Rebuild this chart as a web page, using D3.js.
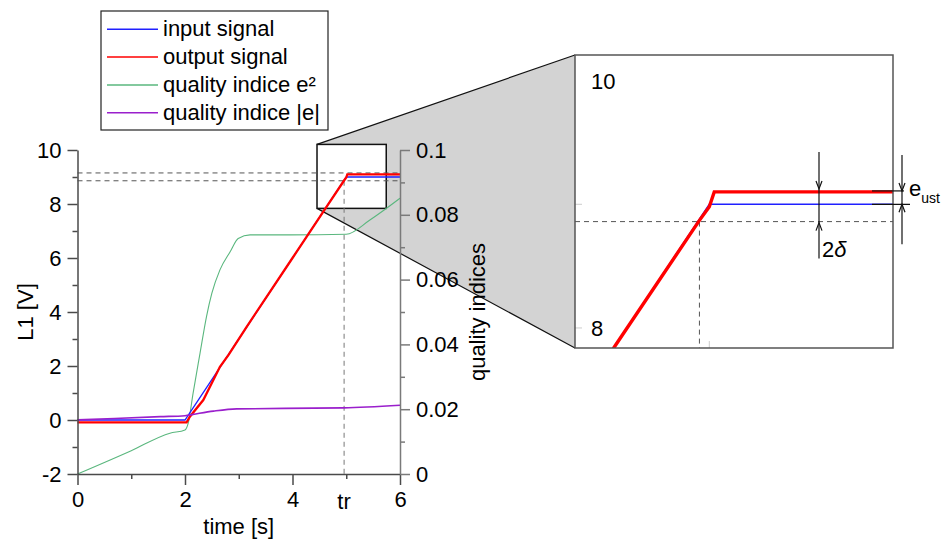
<!DOCTYPE html>
<html><head><meta charset="utf-8">
<script src="https://cdn.jsdelivr.net/npm/d3@7"></script>
<style>
body{margin:0;background:#fff;}
svg{display:block;font-family:"Liberation Sans",Arial,Helvetica,sans-serif;}
</style></head>
<body><svg id="c" width="947" height="540"></svg>
<script>
// ---------------- data ----------------
const inputT  = [0, 2, 5, 6];
const inputV  = [0, 0, 9, 9];
const outputT = [0, 2.03, 2.09, 2.34, 2.65, 2.81, 3.15, 4.0, 4.62, 4.96, 5.0, 5.02, 6];
const outputV = [-0.09, -0.09, 0.12, 0.74, 1.97, 2.41, 3.46, 6.0, 7.86, 8.87, 8.98, 9.1, 9.1];
const e2T = [0, 1, 1.72, 2.0, 2.06, 2.15, 2.28, 2.40, 2.50, 2.65, 2.84, 2.99, 3.21, 3.95, 5.0, 5.44, 6];
const e2V = [0, 0.0072, 0.0126, 0.0136, 0.0157, 0.0249, 0.0373, 0.0486, 0.0558, 0.063, 0.0686, 0.0727, 0.0738, 0.0738, 0.0740, 0.0784, 0.0851];
const absT = [0, 1.54, 2.0, 2.15, 2.53, 2.96, 4.95, 6];
const absV = [0.0167, 0.0177, 0.0180, 0.0184, 0.0194, 0.0201, 0.0204, 0.0212];
const xTicks = [0, 2, 4, 6];
const xMinor = [1, 3, 5];
const yLTicks = [-2, 0, 2, 4, 6, 8, 10];
const yLMinor = [-1, 1, 3, 5, 7, 9];
const yRTicks = [0, 0.02, 0.04, 0.06, 0.08, 0.1];
const yRMinor = [0.01, 0.03, 0.05, 0.07, 0.09];
const tr = 4.96;
const bandHi = 9.15, bandLo = 8.86;
const redLevel = 9.1, blueLevel = 9;
const insetXDomain = [4.456, 5.744];
const insetYDomain = [7.838, 10.207];
const insetYTicks = [8, 9];
const insetYLabels = [8, 10];
const insetXTicks = [5];
const legendItems = [
  {name: "input signal", color: "#2020ff"},
  {name: "output signal", color: "#ff0000"},
  {name: "quality indice e\u00B2", color: "#5ab77e"},
  {name: "quality indice |e|", color: "#9a1fcc"}
];

// ---------------- scales ----------------
const svg = d3.select("#c");
const x = d3.scaleLinear([0, 6], [77.5, 400]);
const yL = d3.scaleLinear([-2, 10], [474, 150]);
const yR = d3.scaleLinear([0, 0.1], [474, 150]);
const IL = 575, IR = 893, IT = 55, IB = 348;
const xi = d3.scaleLinear(insetXDomain, [IL, IR]);
const yi = d3.scaleLinear(insetYDomain, [IB, IT]);

const zip = (t, v) => t.map((d, i) => [d, v[i]]);
const lineL = d3.line().x(d => x(d[0])).y(d => yL(d[1]));
const lineR = d3.line().x(d => x(d[0])).y(d => yR(d[1])).curve(d3.curveMonotoneX);
const lineI = d3.line().x(d => xi(d[0])).y(d => yi(d[1]));
const numFmt = d => String(d);

// ---------------- zoom connector ----------------
const rx0 = x(insetXDomain[0]), rx1 = x(insetXDomain[1]);
const ry0 = yL(insetYDomain[1]), ry1 = yL(insetYDomain[0]);
svg.append("path")
  .attr("d", `M${rx0},${ry0}L${IL},${IT}L${IL},${IB}L${rx0},${ry1}Z`)
  .attr("fill", "#d3d3d3").attr("stroke", "none");
svg.append("path").attr("d", `M${rx0},${ry0}L${IL},${IT}M${rx0},${ry1}L${IL},${IB}`)
  .attr("stroke", "#111").attr("stroke-width", 1.2).attr("fill", "none");
svg.append("rect").attr("x", rx0).attr("y", ry0).attr("width", rx1 - rx0).attr("height", ry1 - ry0)
  .attr("fill", "#fff").attr("stroke", "#111").attr("stroke-width", 1.5);

// ---------------- main dashed guides ----------------
const dash = "5,4";
[bandHi, bandLo].forEach(v => {
  svg.append("line").attr("x1", x(0)).attr("x2", x(6)).attr("y1", yL(v)).attr("y2", yL(v))
    .attr("stroke", "#555").attr("stroke-width", 1).attr("stroke-dasharray", dash);
});
svg.append("line").attr("x1", x(tr)).attr("x2", x(tr)).attr("y1", yL(bandLo)).attr("y2", yL(-2))
  .attr("stroke", "#777").attr("stroke-width", 1).attr("stroke-dasharray", dash);

// ---------------- main series ----------------
svg.append("path").attr("d", lineR(zip(e2T, e2V))).attr("fill", "none").attr("stroke", legendItems[2].color).attr("stroke-width", 1.1);
svg.append("path").attr("d", lineL(zip(inputT, inputV))).attr("fill", "none").attr("stroke", legendItems[0].color).attr("stroke-width", 1.3);
svg.append("path").attr("d", lineL(zip(outputT, outputV))).attr("fill", "none").attr("stroke", legendItems[1].color).attr("stroke-width", 2.3);
svg.append("path").attr("d", lineR(zip(absT, absV))).attr("fill", "none").attr("stroke", legendItems[3].color).attr("stroke-width", 1.6);

// ---------------- axes ----------------
function styleAxis(g, color, fs) {
  g.selectAll("path,line").attr("stroke", color).attr("stroke-width", 1.5);
  g.selectAll("text").attr("font-size", fs).attr("fill", "#000").attr("font-family", "Liberation Sans, Arial, sans-serif");
}
const gL = svg.append("g").attr("transform", `translate(${x(0)},0)`)
  .call(d3.axisLeft(yL).tickValues(yLTicks).tickSize(10).tickSizeOuter(0).tickPadding(6).tickFormat(numFmt));
styleAxis(gL, "#4a4a4a", 22);
const gLm = svg.append("g").attr("transform", `translate(${x(0)},0)`)
  .call(d3.axisLeft(yL).tickValues(yLMinor).tickSize(5).tickSizeOuter(0).tickFormat(""));
gLm.select(".domain").remove(); styleAxis(gLm, "#4a4a4a", 22);

const gB = svg.append("g").attr("transform", `translate(0,${yL(-2)})`)
  .call(d3.axisBottom(x).tickValues(xTicks).tickSize(11).tickSizeOuter(0).tickPadding(6).tickFormat(numFmt));
styleAxis(gB, "#4a4a4a", 22);
const gBm = svg.append("g").attr("transform", `translate(0,${yL(-2)})`)
  .call(d3.axisBottom(x).tickValues(xMinor).tickSize(5).tickSizeOuter(0).tickFormat(""));
gBm.select(".domain").remove(); styleAxis(gBm, "#4a4a4a", 22);
svg.append("text").attr("x", x(tr)).attr("y", 509).attr("text-anchor", "middle").attr("font-size", 22).text("tr");

const gR = svg.append("g").attr("transform", `translate(${x(6)},0)`)
  .call(d3.axisRight(yR).tickValues(yRTicks).tickSize(10).tickSizeOuter(0).tickPadding(6).tickFormat(d => d === 0 ? "0" : d3.format(".2~f")(d)));
styleAxis(gR, "#7a7a7a", 22);
const gRm = svg.append("g").attr("transform", `translate(${x(6)},0)`)
  .call(d3.axisRight(yR).tickValues(yRMinor).tickSize(5).tickSizeOuter(0).tickFormat(""));
gRm.select(".domain").remove(); styleAxis(gRm, "#7a7a7a", 22);

svg.append("text").attr("x", (x(0) + x(6)) / 2).attr("y", 534).attr("text-anchor", "middle").attr("font-size", 22).text("time [s]");
svg.append("text").attr("transform", `translate(33,${(yL(-2) + yL(10)) / 2}) rotate(-90)`).attr("text-anchor", "middle").attr("font-size", 22).text("L1 [V]");
svg.append("text").attr("transform", `translate(485,${(yL(-2) + yL(10)) / 2}) rotate(-90)`).attr("text-anchor", "middle").attr("font-size", 22).text("quality indices");

// ---------------- inset ----------------
svg.append("defs").append("clipPath").attr("id", "ic").append("rect")
  .attr("x", IL).attr("y", IT).attr("width", IR - IL).attr("height", IB - IT);
svg.append("rect").attr("x", IL).attr("y", IT).attr("width", IR - IL).attr("height", IB - IT)
  .attr("fill", "#fff");
const gi = svg.append("g").attr("clip-path", "url(#ic)");
insetYTicks.forEach(v => gi.append("line").attr("x1", IL).attr("x2", IL + 7).attr("y1", yi(v)).attr("y2", yi(v)).attr("stroke", "#ccc").attr("stroke-width", 1));
insetXTicks.forEach(v => gi.append("line").attr("x1", xi(v)).attr("x2", xi(v)).attr("y1", IB).attr("y2", IB - 7).attr("stroke", "#ccc").attr("stroke-width", 1));
gi.append("line").attr("x1", IL).attr("x2", IR).attr("y1", yi(bandLo)).attr("y2", yi(bandLo))
  .attr("stroke", "#555").attr("stroke-width", 1).attr("stroke-dasharray", dash);
gi.append("line").attr("x1", xi(tr)).attr("x2", xi(tr)).attr("y1", yi(bandLo)).attr("y2", IB)
  .attr("stroke", "#555").attr("stroke-width", 1).attr("stroke-dasharray", dash);
gi.append("path").attr("d", lineI(zip(inputT, inputV))).attr("fill", "none").attr("stroke", legendItems[0].color).attr("stroke-width", 1.5);
gi.append("path").attr("d", lineI(zip(outputT, outputV))).attr("fill", "none").attr("stroke", legendItems[1].color).attr("stroke-width", 3.4);
insetYLabels.forEach(v => {
  gi.append("text").attr("x", IL + 16).attr("y", yi(v)).attr("dy", "0.36em").attr("font-size", 22).text(v);
});
svg.append("rect").attr("x", IL).attr("y", IT).attr("width", IR - IL).attr("height", IB - IT)
  .attr("fill", "none").attr("stroke", "#555").attr("stroke-width", 1.5);

// annotations
const ann = svg.append("g").attr("stroke", "#111").attr("stroke-width", 1.2).attr("fill", "none");
function arrow(xp, tip, dir) { // dir: +1 pointing down, -1 pointing up
  ann.append("path").attr("d", `M${xp - 3},${tip - dir * 8}L${xp},${tip}L${xp + 3},${tip - dir * 8}`);
}
const ax1 = 819, ax2 = 902;
ann.append("line").attr("x1", ax1).attr("x2", ax1).attr("y1", yi(redLevel) - 40).attr("y2", yi(bandLo) + 37);
arrow(ax1, yi(redLevel) - 3, 1);
arrow(ax1, yi(bandLo) + 1, -1);
ann.append("line").attr("x1", ax2).attr("x2", ax2).attr("y1", yi(redLevel) - 37).attr("y2", yi(blueLevel) + 40);
arrow(ax2, yi(redLevel) - 1, 1);
arrow(ax2, yi(blueLevel), -1);
ann.append("line").attr("x1", 872).attr("x2", 904).attr("y1", yi(redLevel) - 1).attr("y2", yi(redLevel) - 1);
ann.append("line").attr("x1", 872).attr("x2", 910).attr("y1", yi(blueLevel)).attr("y2", yi(blueLevel));
const t2d = svg.append("text").attr("x", 822).attr("y", 257).attr("font-size", 22);
t2d.append("tspan").text("2");
t2d.append("tspan").attr("font-style", "italic").text("\u03B4");
const te = svg.append("text").attr("x", 909).attr("y", 196).attr("font-size", 22);
te.append("tspan").text("e");
te.append("tspan").attr("font-size", 14).attr("dy", 7).text("ust");

// ---------------- legend ----------------
const lg = svg.append("g");
lg.append("rect").attr("x", 101).attr("y", 11).attr("width", 227).attr("height", 119)
  .attr("fill", "#fff").attr("stroke", "#222").attr("stroke-width", 1.2);
legendItems.forEach((d, i) => {
  const yy = 29.3 + i * 27.8;
  lg.append("line").attr("x1", 107).attr("x2", 158).attr("y1", yy).attr("y2", yy).attr("stroke", d.color).attr("stroke-width", 1.5);
  lg.append("text").attr("x", 163).attr("y", yy + 7).attr("font-size", 22).text(d.name);
});
</script></body></html>
